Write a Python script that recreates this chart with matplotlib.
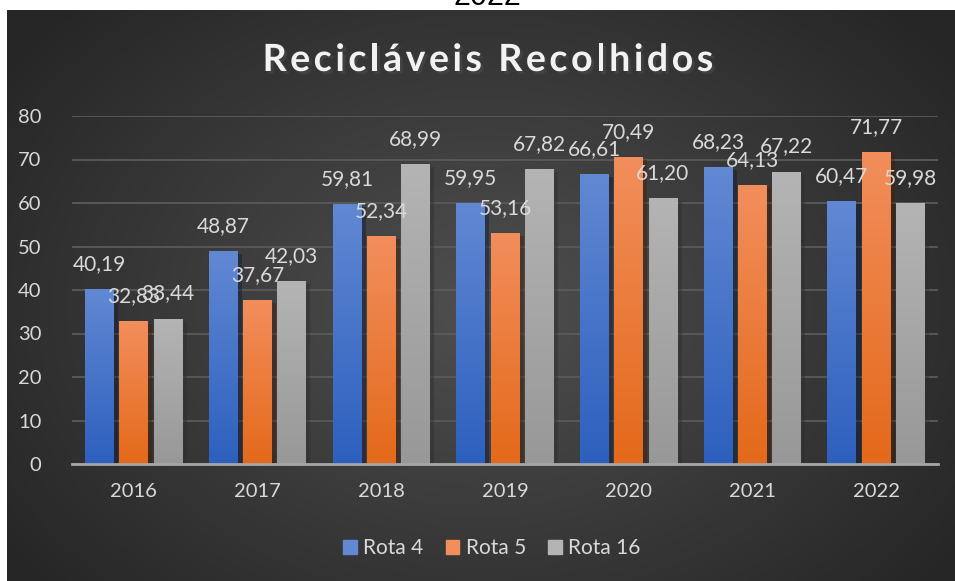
import matplotlib.pyplot as plt
import matplotlib.patheffects as pe
import numpy as np
from matplotlib.colors import LinearSegmentedColormap

anos = ["2016", "2017", "2018", "2019", "2020", "2021", "2022"]
rota4 = [40.19, 48.87, 59.81, 59.95, 66.61, 68.23, 60.47]
rota5 = [32.83, 37.67, 52.34, 53.16, 70.49, 64.13, 71.77]
rota16 = [33.44, 42.03, 68.99, 67.82, 61.20, 67.22, 59.98]
series = ["Rota 4", "Rota 5", "Rota 16"]
titulo = "Recicláveis Recolhidos"

# cor do topo e da base de cada serie
cores = [("#6188d3", "#2d60be"), ("#f28e5c", "#e4691a"), ("#b4b4b4", "#989898")]
cor_texto = "#d9d9d9"

plt.rcParams['font.family'] = ['Lato', 'DejaVu Sans']

fig = plt.figure(figsize=(9.55, 5.81), dpi=100)
fig.patch.set_facecolor("white")

# fundo com degrade radial
ax_bg = fig.add_axes([7 / 955, 0, 948 / 955, 571 / 581])
ny, nx = 300, 500
yy, xx = np.mgrid[0:ny, 0:nx]
r = np.sqrt(((xx - nx * 0.5) / (nx * 0.62)) ** 2 + ((yy - ny * 0.52) / (ny * 0.75)) ** 2)
r = np.clip(r, 0, 1)
fundo = LinearSegmentedColormap.from_list("fundo", ["#4f4f4f", "#262626"])
ax_bg.imshow(r, cmap=fundo, aspect="auto", vmin=0, vmax=1, interpolation="bilinear")
ax_bg.set_axis_off()

ax = fig.add_axes([72 / 955, 117 / 581, 866 / 955, 348 / 581])
ax.patch.set_alpha(0)

x = np.arange(len(anos))
largura = 0.234
passo = 0.277
valores = [rota4, rota5, rota16]

for i, (vals, (topo, base)) in enumerate(zip(valores, cores)):
    barras = ax.bar(x + (i - 1) * passo, vals, largura, color=base, zorder=2,
                    path_effects=[pe.SimplePatchShadow(offset=(3, -2), alpha=0.45), pe.Normal()])
    cmap = LinearSegmentedColormap.from_list("g%d" % i, [base, topo])
    grad = np.linspace(0, 1, 100).reshape(-1, 1)
    for b, v in zip(barras, vals):
        im = ax.imshow(grad, cmap=cmap, aspect="auto", origin="lower",
                       extent=(b.get_x(), b.get_x() + b.get_width(), 0, b.get_height()),
                       zorder=3)
        im.set_clip_path(b)
        ax.annotate(("%.2f" % v).replace(".", ","),
                    (b.get_x() + b.get_width() / 2, b.get_height()),
                    xytext=(0, 18), textcoords="offset points",
                    ha="center", va="center", fontsize=15, color=cor_texto, zorder=5)

ax.set_xlim(-0.5, 6.5)
ax.set_ylim(0, 80)
ax.set_yticks(range(0, 81, 10))
ax.set_xticks(x)
ax.set_xticklabels(anos)
ax.tick_params(length=0, labelsize=14.5, colors=cor_texto)
ax.tick_params(axis="y", pad=22)
ax.tick_params(axis="x", pad=14)
ax.grid(axis="y", color="#5a5a5a", linewidth=1.3, zorder=1)
ax.set_axisbelow(True)
for s in ["top", "right", "left"]:
    ax.spines[s].set_visible(False)
ax.spines["bottom"].set_color("#a6a6a6")
ax.spines["bottom"].set_linewidth(2)
ax.spines["bottom"].set_zorder(4)

# legenda
handles = [plt.Rectangle((0, 0), 1, 1, color=c[0]) for c in cores]
leg = fig.legend(handles, series, loc="center", bbox_to_anchor=(0.515, 1 - 548 / 581),
                 ncol=3, frameon=False, fontsize=15, handlelength=0.67, handleheight=0.67,
                 handletextpad=0.3, columnspacing=1.05, borderpad=0)
for t in leg.get_texts():
    t.set_color(cor_texto)

# titulo com espacamento entre letras
renderer = fig.canvas.get_renderer()
sombra = [pe.withSimplePatchShadow(offset=(2, -2), alpha=0.6)]
letras = []
larguras = []
for c in titulo:
    t = fig.text(0, 1 - 60 / 581, c, ha="left", va="center", fontsize=27,
                 fontweight="bold", color="#f2f2f2", path_effects=sombra)
    w = t.get_window_extent(renderer).width if c != " " else 9
    letras.append(t)
    larguras.append(w)
espaco = 3.6
total = sum(larguras) + espaco * (len(titulo) - 1)
pos = 488 - total / 2
for t, w in zip(letras, larguras):
    t.set_x(pos / 955)
    pos += w + espaco

# texto cortado no topo
fig.text(487 / 955, 1 - 5 / 581, "2022", ha="center", va="baseline", fontsize=22,
         color="black", family="Liberation Sans")

plt.savefig("out.png", dpi=100)
